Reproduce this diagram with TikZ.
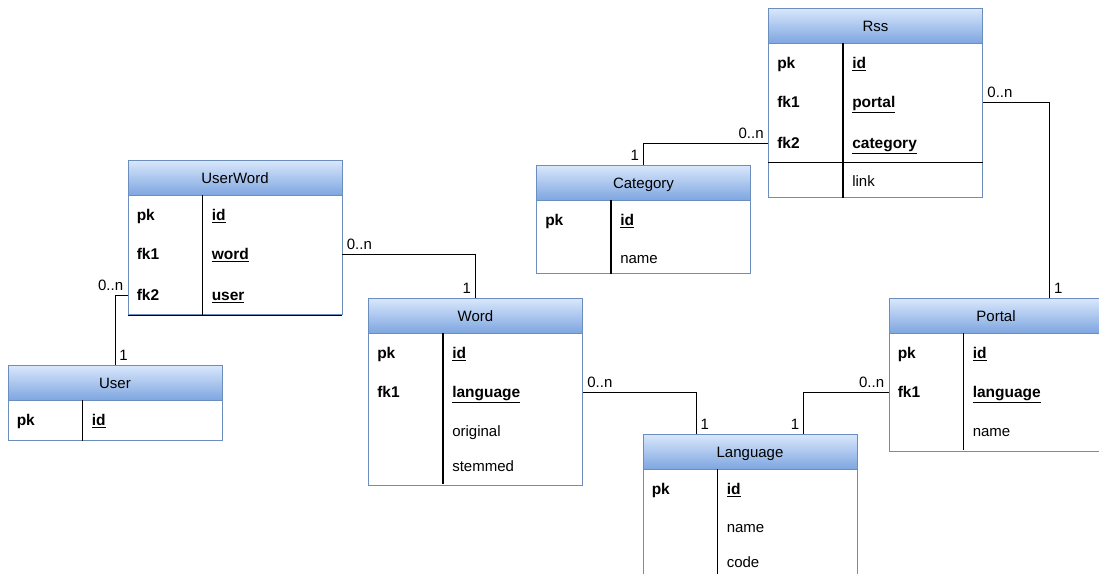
\documentclass[tikz,border=0pt]{standalone}
\usepackage{fontspec}
\setmainfont{Liberation Sans}
\usepackage{xcolor}
\usetikzlibrary{positioning, calc}

\definecolor{headtop}{HTML}{DAE8FC}
\definecolor{headbottom}{HTML}{7EA6E0}
\definecolor{headline}{HTML}{6C8EBF}

\begin{document}
\begin{tikzpicture}[x=1pt, y=-1pt, font=\fontsize{15}{18}\selectfont]

		% Define styles
		\tikzstyle{header} = [rectangle, draw=headline, line width=0.9pt, top color=headtop, bottom color=headbottom, minimum width=214pt, minimum height=35pt, inner sep=0pt, text height=11pt, text depth=0pt]
		\tikzstyle{body} = [rectangle, draw=headline, line width=0.9pt, fill=white, minimum width=214pt, inner sep=0pt]
		\tikzstyle{field} = [anchor=west, inner sep=0pt, text height=11pt, text depth=0pt]
		\tikzstyle{keyname} = [field, font=\fontsize{15.5}{18}\selectfont\bfseries]
		\tikzstyle{divider} = [line width=1.4pt]
		\tikzstyle{link} = [line width=0.9pt]
		\tikzstyle{card} = [inner sep=4pt]

		\useasboundingbox (0,0) rectangle (1099,573);

		% UserWord
		\node[header] (userword) at (235,177.5) {UserWord};
		\node[body, below=0pt of userword, minimum height=119pt] (userword-body) {};
		\draw[divider] ([xshift=75pt]userword-body.north west) -- ([xshift=75pt]userword-body.south west);
		\draw[divider] (userword-body.south west) -- (userword-body.south east);
		\node[keyname] (userword-pk) at ([xshift=9pt, yshift=-19.5pt]userword-body.north west) {pk};
		\node[keyname] (userword-fk1) at ([xshift=9pt, yshift=-59pt]userword-body.north west) {fk1};
		\node[keyname] (userword-fk2) at ([xshift=9pt, yshift=-99.5pt]userword-body.north west) {fk2};
		\node[keyname] at ([xshift=84pt, yshift=-19.5pt]userword-body.north west) {\underline{id}};
		\node[keyname] at ([xshift=84pt, yshift=-59pt]userword-body.north west) {\underline{word}};
		\node[keyname] at ([xshift=84pt, yshift=-99.5pt]userword-body.north west) {\underline{user}};

		% User
		\node[header] (user) at (115,382.5) {User};
		\node[body, below=0pt of user, minimum height=40pt] (user-body) {};
		\draw[divider] ([xshift=75pt]user-body.north west) -- ([xshift=75pt]user-body.south west);
		\node[keyname] (user-pk) at ([xshift=9pt, yshift=-20pt]user-body.north west) {pk};
		\node[keyname] at ([xshift=84pt, yshift=-20pt]user-body.north west) {\underline{id}};

		% Word
		\node[header] (word) at (475.5,315.5) {Word};
		\node[body, below=0pt of word, minimum height=152pt] (word-body) {};
		\draw[divider] ([xshift=75pt]word-body.north west) -- ([xshift=75pt, yshift=2pt]word-body.south west);
		\node[keyname] (word-pk) at ([xshift=9pt, yshift=-19.5pt]word-body.north west) {pk};
		\node[keyname] (word-fk1) at ([xshift=9pt, yshift=-59pt]word-body.north west) {fk1};
		\node[keyname] at ([xshift=84pt, yshift=-19.5pt]word-body.north west) {\underline{id}};
		\node[keyname] at ([xshift=84pt, yshift=-59pt]word-body.north west) {\underline{language}};
		\node[field] at ([xshift=84pt, yshift=-98pt]word-body.north west) {original};
		\node[field] at ([xshift=84pt, yshift=-133pt]word-body.north west) {stemmed};

		% Category
		\node[header] (category) at (643.5,182.5) {Category};
		\node[body, below=0pt of category, minimum height=73pt] (category-body) {};
		\draw[divider] ([xshift=75pt]category-body.north west) -- ([xshift=75pt]category-body.south west);
		\node[keyname] (category-pk) at ([xshift=9pt, yshift=-19.5pt]category-body.north west) {pk};
		\node[keyname] at ([xshift=84pt, yshift=-19.5pt]category-body.north west) {\underline{id}};
		\node[field] at ([xshift=84pt, yshift=-58pt]category-body.north west) {name};

		% Rss
		\node[header] (rss) at (875.5,25.5) {Rss};
		\node[body, below=0pt of rss, minimum height=154pt] (rss-body) {};
		\draw[divider] ([xshift=75pt]rss-body.north west) -- ([xshift=75pt]rss-body.south west);
		\draw[divider] ([yshift=-119pt]rss-body.north west) -- ([yshift=-119pt]rss-body.north east);
		\node[keyname] (rss-pk) at ([xshift=9pt, yshift=-19.5pt]rss-body.north west) {pk};
		\node[keyname] (rss-fk1) at ([xshift=9pt, yshift=-59pt]rss-body.north west) {fk1};
		\node[keyname] (rss-fk2) at ([xshift=9pt, yshift=-99.5pt]rss-body.north west) {fk2};
		\node[keyname] at ([xshift=84pt, yshift=-19.5pt]rss-body.north west) {\underline{id}};
		\node[keyname] at ([xshift=84pt, yshift=-59pt]rss-body.north west) {\underline{portal}};
		\node[keyname] at ([xshift=84pt, yshift=-99.5pt]rss-body.north west) {\underline{category}};
		\node[field] at ([xshift=84pt, yshift=-138pt]rss-body.north west) {link};

		% Portal
		\node[header] (portal) at (996,315.5) {Portal};
		\node[body, below=0pt of portal, minimum height=118pt] (portal-body) {};
		\draw[divider] ([xshift=75pt]portal-body.north west) -- ([xshift=75pt, yshift=2pt]portal-body.south west);
		\node[keyname] (portal-pk) at ([xshift=9pt, yshift=-19.5pt]portal-body.north west) {pk};
		\node[keyname] (portal-fk1) at ([xshift=9pt, yshift=-59pt]portal-body.north west) {fk1};
		\node[keyname] at ([xshift=84pt, yshift=-19.5pt]portal-body.north west) {\underline{id}};
		\node[keyname] at ([xshift=84pt, yshift=-59pt]portal-body.north west) {\underline{language}};
		\node[field] at ([xshift=84pt, yshift=-98pt]portal-body.north west) {name};

		% Language
		\node[header] (language) at (750,451.5) {Language};
		\node[body, below=0pt of language, minimum height=120pt] (language-body) {};
		\draw[divider] ([xshift=75pt]language-body.north west) -- ([xshift=75pt]language-body.south west);
		\node[keyname] (language-pk) at ([xshift=9pt, yshift=-20pt]language-body.north west) {pk};
		\node[keyname] at ([xshift=84pt, yshift=-20pt]language-body.north west) {\underline{id}};
		\node[field] at ([xshift=84pt, yshift=-58pt]language-body.north west) {name};
		\node[field] at ([xshift=84pt, yshift=-93pt]language-body.north west) {code};

		% Relations
		\draw[link] (userword-fk2 -| userword-body.west) -| (user.north)
			node[card, at start, above left] {0..n} node[card, at end, above right] {1};
		\draw[link] (userword-fk1 -| userword-body.east) -| (word.north)
			node[card, at start, above right] {0..n} node[card, at end, above left] {1};
		\draw[link] (rss-fk2 -| rss-body.west) -| (category.north)
			node[card, at start, above left] {0..n} node[card, at end, above left] {1};
		\draw[link] (rss-fk1 -| rss-body.east) -| ($(portal.north west)!0.75!(portal.north east)$)
			node[card, at start, above right] {0..n} node[card, at end, above right] {1};
		\draw[link] (word-fk1 -| word-body.east) -| ($(language.north west)!0.25!(language.north east)$)
			node[card, at start, above right] {0..n} node[card, at end, above right] {1};
		\draw[link] (portal-fk1 -| portal-body.west) -| ($(language.north west)!0.75!(language.north east)$)
			node[card, at start, above left] {0..n} node[card, at end, above left] {1};

	\end{tikzpicture}
\end{document}
